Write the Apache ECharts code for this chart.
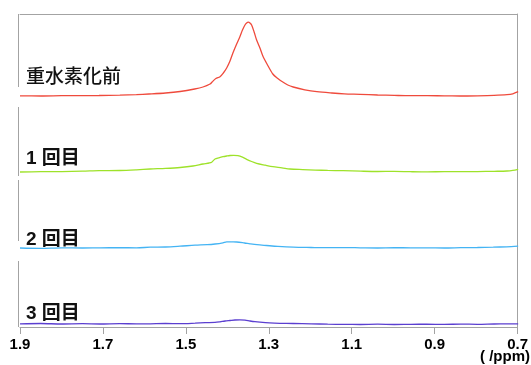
<!DOCTYPE html>
<html>
<head>
<meta charset="utf-8">
<style>
  html, body { margin: 0; padding: 0; background: #ffffff; }
  #chart { width: 531px; height: 365px; }
</style>
<script src="https://cdn.jsdelivr.net/npm/echarts@6/dist/echarts.min.js"></script>
</head>
<body>
<div id="chart"></div>
<script>
// Chemical shift axis (ppm), drawn high to low
const ppmMin = 0.7;
const ppmMax = 1.9;
const ppmStep = 0.2;

// Trace names, top to bottom
const traceNames = ['重水素化前', '1 回目', '2 回目', '3 回目'];
const axisUnit = '( /ppm)';

// Before deuteration
const redPpm = [1.90,1.85,1.80,1.75,1.71,1.66,1.62,1.59,1.55,1.515,1.48,1.46,1.443,1.438,1.429,1.419,1.411,1.403,1.395,1.388,1.379,1.371,1.365,1.359,1.355,1.351,1.347,1.343,1.337,1.331,1.323,1.316,1.306,1.292,1.280,1.270,1.256,1.243,1.215,1.186,1.150,1.120,1.082,1.040,1.000,0.962,0.920,0.880,0.842,0.800,0.760,0.729,0.715,0.702];
const redInt = [0.2,0.0,0.3,0.4,0.5,0.9,1.4,2.0,3.0,4.5,7.0,9.0,12.0,14.0,17.5,19.3,23.0,28.0,35.0,43.0,52.0,59.5,66.0,71.0,73.0,73.8,73.0,71.0,64.0,56.0,48.0,40.0,32.0,22.0,17.5,14.5,11.0,9.0,6.2,4.3,3.0,2.2,1.7,1.0,0.6,0.3,0.4,0.1,0.0,0.2,0.6,1.3,2.2,4.3];

// 1st exchange
const greenPpm = [1.90,1.85,1.80,1.75,1.71,1.66,1.62,1.587,1.55,1.515,1.484,1.46,1.445,1.439,1.431,1.422,1.412,1.403,1.395,1.386,1.376,1.365,1.355,1.343,1.331,1.31,1.292,1.27,1.251,1.22,1.19,1.16,1.123,1.08,1.04,1.00,0.962,0.92,0.88,0.842,0.80,0.76,0.729,0.715,0.702];
const greenInt = [0.0,0.3,0.4,0.8,1.3,1.5,2.2,3.0,3.6,4.5,6.0,8.0,9.0,9.8,13.0,14.2,15.3,16.0,16.5,16.6,16.3,14.8,12.7,10.5,8.7,6.8,5.3,4.2,3.0,2.4,1.9,1.6,1.3,0.8,0.5,0.6,0.3,0.1,0.4,0.3,0.4,0.7,1.0,1.6,2.7];

// 2nd exchange
const bluePpm = [1.90,1.85,1.80,1.75,1.708,1.66,1.62,1.587,1.55,1.515,1.479,1.45,1.431,1.412,1.403,1.391,1.379,1.36,1.347,1.33,1.307,1.28,1.243,1.20,1.16,1.12,1.082,1.04,1.00,0.96,0.922,0.88,0.84,0.80,0.762,0.73,0.702];
const blueInt = [0.0,-0.3,0.2,0.0,0.2,0.3,0.2,0.8,1.0,1.8,2.8,3.3,4.0,5.2,6.2,6.1,6.0,5.0,4.2,3.3,2.5,1.6,0.8,0.5,0.3,0.4,0.2,0.0,0.3,0.2,0.2,0.0,0.3,0.5,0.8,1.2,1.8];

// 3rd exchange
const purplePpm = [1.90,1.85,1.80,1.75,1.708,1.66,1.62,1.587,1.55,1.515,1.479,1.455,1.431,1.419,1.407,1.395,1.383,1.371,1.359,1.347,1.335,1.323,1.30,1.275,1.243,1.20,1.16,1.12,1.082,1.04,1.00,0.96,0.922,0.88,0.84,0.80,0.76,0.73,0.702];
const purpleInt = [0.2,0.5,0.0,0.3,0.0,0.4,0.1,0.2,0.5,0.3,0.8,1.3,1.6,2.2,3.0,3.5,4.0,4.2,3.8,3.0,2.3,1.8,1.1,0.7,0.5,0.2,-0.2,-0.4,-0.5,-0.2,-0.5,-0.3,-0.2,-0.4,-0.1,-0.3,0.0,0.1,0.2];

const traces = [
  { ppm: redPpm, val: redInt, color: '#ef4a3c' },
  { ppm: greenPpm, val: greenInt, color: '#9ee22a' },
  { ppm: bluePpm, val: blueInt, color: '#44b4f4' },
  { ppm: purplePpm, val: purpleInt, color: '#5b3fd0' }
];

const frameColor = '#a3a3a3';
const L = 20, R = 12, T = 14, B = 38;
const stripTops = [22, 98, 174, 250];
const stripH = 76;

const grids = [];
const xAxes = [];
const yAxes = [];
const series = [];

traces.forEach((t, i) => {
  grids.push({ left: L, right: R, top: stripTops[i], height: stripH });
  xAxes.push({ gridIndex: i, type: 'value', min: ppmMin, max: ppmMax, inverse: true, show: false });
  yAxes.push({ gridIndex: i, type: 'value', min: -2, max: 74, show: false });
  series.push({
    type: 'line',
    xAxisIndex: i,
    yAxisIndex: i,
    data: t.ppm.map((p, k) => [p, t.val[k]]),
    showSymbol: false,
    smooth: 0.3,
    clip: false,
    lineStyle: { color: t.color, width: 1.3 },
    silent: true
  });
});

// Frame grid: bottom ppm axis, top and right borders
const fi = traces.length;
grids.push({ left: L, right: R, top: T, bottom: B });
xAxes.push({
  gridIndex: fi, type: 'value', min: ppmMin, max: ppmMax, interval: ppmStep, inverse: true,
  position: 'bottom',
  axisLine: { show: true, lineStyle: { color: frameColor, width: 1 } },
  axisTick: { show: true, length: 7, lineStyle: { color: frameColor, width: 1 } },
  axisLabel: {
    margin: 10, color: '#000', fontSize: 15, fontWeight: 'bold',
    fontFamily: 'Liberation Sans, Arial, sans-serif',
    formatter: v => v.toFixed(1)
  },
  splitLine: { show: false }
});
xAxes.push({
  gridIndex: fi, type: 'value', min: ppmMin, max: ppmMax, inverse: true, position: 'top',
  axisLine: { show: true, lineStyle: { color: frameColor, width: 1 } },
  axisTick: { show: false }, axisLabel: { show: false }, splitLine: { show: false }
});
yAxes.push({
  gridIndex: fi, type: 'value', min: 0, max: 1, position: 'right',
  axisLine: { show: true, lineStyle: { color: frameColor, width: 1 } },
  axisTick: { show: false }, axisLabel: { show: false }, splitLine: { show: false }
});

// Left border, broken where the traces start
const leftSegs = [[14, 87], [107, 176], [180, 241], [261, 327]];
const graphic = leftSegs.map(s => ({
  type: 'line', silent: true,
  shape: { x1: 18.5, y1: s[0], x2: 18.5, y2: s[1] },
  style: { stroke: frameColor, lineWidth: 1 }
}));

const labelY = [78, 159, 240, 314];
traceNames.forEach((name, i) => {
  graphic.push({
    type: 'text', silent: true, x: 26, y: labelY[i],
    style: {
      text: name, fill: '#111',
      font: (i === 0 ? '500' : 'bold') + ' 19px "Liberation Sans", "Noto Sans CJK JP", sans-serif',
      textVerticalAlign: 'middle', textAlign: 'left'
    }
  });
});
graphic.push({
  type: 'text', silent: true, x: 530, y: 357,
  style: {
    text: axisUnit, fill: '#000',
    font: 'bold 15px "Liberation Sans", Arial, sans-serif',
    textVerticalAlign: 'middle', textAlign: 'right'
  }
});

const chart = echarts.init(document.getElementById('chart'), null, { renderer: 'canvas' });
chart.setOption({
  animation: false,
  backgroundColor: '#ffffff',
  grid: grids,
  xAxis: xAxes,
  yAxis: yAxes,
  series: series,
  graphic: graphic
});
</script>
</body>
</html>
